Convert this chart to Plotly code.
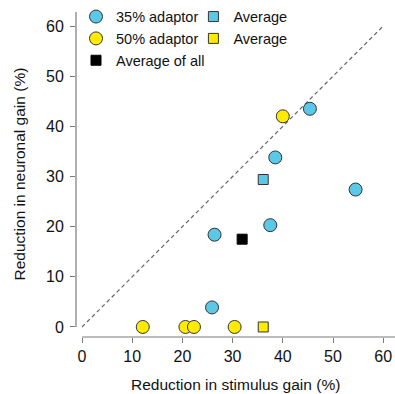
import plotly.graph_objects as go

# 35% adaptor (cyan circles)
c35_x = [45.4, 38.5, 54.5, 26.4, 37.5, 25.9]
c35_y = [43.5, 33.8, 27.4, 18.4, 20.3, 3.9]
# 50% adaptor (yellow circles)
c50_x = [40.0, 12.1, 20.6, 22.3, 30.4]
c50_y = [42.0, 0.0, 0.0, 0.0, 0.0]
# averages
avg35_x = [36.1]
avg35_y = [29.4]
avg50_x = [36.1]
avg50_y = [0.0]
avgall_x = [31.9]
avgall_y = [17.5]
# identity line
diag_x = [0, 60]
diag_y = [0, 60]
tick_vals = [0, 10, 20, 30, 40, 50, 60]

CYAN = "#5CC8E8"
YELLOW = "#FFEB00"
EDGE = "#333333"
AXC = "#7a7a7a"
FONT = "Liberation Sans, Arial, sans-serif"

fig = go.Figure()
fig.add_trace(go.Scatter(x=diag_x, y=diag_y, mode="lines", showlegend=False,
                         line=dict(color="#666666", width=1.2, dash="4px,3px"), hoverinfo="skip"))
fig.add_trace(go.Scatter(x=c35_x, y=c35_y, mode="markers", name="35% adaptor", legend="legend",
                         marker=dict(symbol="circle", size=13, color=CYAN, line=dict(color=EDGE, width=1))))
fig.add_trace(go.Scatter(x=c50_x, y=c50_y, mode="markers", name="50% adaptor", legend="legend",
                         marker=dict(symbol="circle", size=13, color=YELLOW, line=dict(color=EDGE, width=1))))
fig.add_trace(go.Scatter(x=avgall_x, y=avgall_y, mode="markers", name="Average of all", legend="legend",
                         marker=dict(symbol="square", size=10, color="#000000", line=dict(color="#000000", width=1))))
fig.add_trace(go.Scatter(x=avg35_x, y=avg35_y, mode="markers", name="Average", legend="legend2",
                         marker=dict(symbol="square", size=10, color=CYAN, line=dict(color=EDGE, width=1))))
fig.add_trace(go.Scatter(x=avg50_x, y=avg50_y, mode="markers", name="Average", legend="legend2",
                         marker=dict(symbol="square", size=10, color=YELLOW, line=dict(color=EDGE, width=1))))

L, R, T, B = 76, 0, 12, 57
W, H = 395, 394

xr = [-1.2, 62.35]
yr = [-2.0, 62.8]

legend_common = dict(font=dict(family=FONT, size=14.5, color="#111111"), bgcolor="rgba(0,0,0,0)",
                     xanchor="left", yanchor="top", tracegroupgap=0, itemsizing="trace")

fig.update_layout(
    width=W, height=H,
    margin=dict(l=L, r=R, t=T, b=B, pad=0),
    plot_bgcolor="white", paper_bgcolor="white",
    font=dict(family=FONT, size=16, color="#111111"),
    xaxis=dict(range=xr, tickvals=tick_vals, ticks="outside", ticklen=5, tickcolor=AXC,
               showgrid=False, zeroline=False, showline=False,
               tickfont=dict(size=16, family=FONT, color="#111111")),
    yaxis=dict(range=yr, tickvals=tick_vals, ticks="outside", ticklen=5, tickcolor=AXC,
               showgrid=False, zeroline=False, showline=False, ticklabelstandoff=3,
               tickfont=dict(size=16, family=FONT, color="#111111")),
    legend=dict(x=0.0, y=1.035, **legend_common),
    legend2=dict(x=0.368, y=1.035, **legend_common),
    shapes=[
        dict(type="line", xref="paper", yref="y", x0=0, x1=0, y0=0, y1=yr[1],
             line=dict(color=AXC, width=1.2)),
        dict(type="line", xref="x", yref="paper", x0=0, x1=xr[1], y0=0, y1=0,
             line=dict(color=AXC, width=1.2)),
    ],
    annotations=[
        dict(text="Reduction in stimulus gain (%)", xref="paper", yref="paper", x=0.5, y=0,
             yshift=-47, showarrow=False, xanchor="center", yanchor="middle",
             font=dict(family=FONT, size=15.5, color="#111111")),
        dict(text="Reduction in neuronal gain (%)", xref="paper", yref="paper", x=0, y=0.5,
             xshift=-57, textangle=-90, showarrow=False, xanchor="center", yanchor="middle",
             font=dict(family=FONT, size=15.5, color="#111111")),
    ],
)

fig.write_html("out.html", config={"displayModeBar": False},
               post_script="document.body.style.margin='0';document.body.style.overflow='hidden';")
